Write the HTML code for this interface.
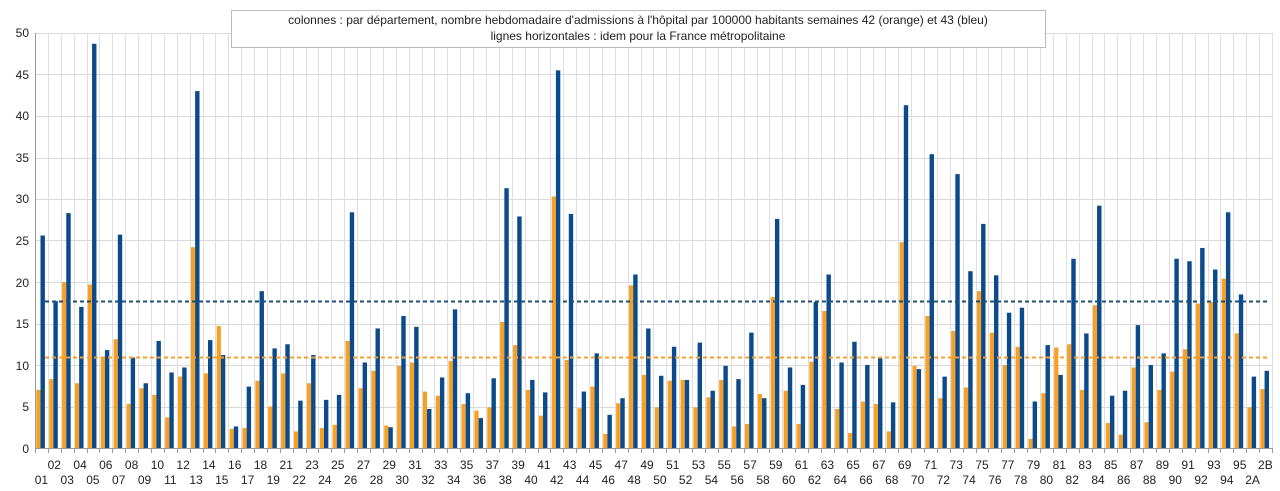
<!DOCTYPE html>
<html><head><meta charset="utf-8"><style>
html,body{margin:0;padding:0;background:#fff;}
svg{display:block;font-family:"Liberation Sans",sans-serif;}
</style></head><body>
<svg id="c" width="1280" height="491" xmlns="http://www.w3.org/2000/svg">
<rect x="0" y="0" width="1280" height="491" fill="#fff"/>
<g id="grid"></g>
<g id="bars"></g>
<line x1="45" y1="301.5" x2="1268" y2="301.5" stroke="#1f4e79" stroke-width="2" stroke-dasharray="4,3"/>
<line x1="45" y1="357.5" x2="1268" y2="357.5" stroke="#f5a030" stroke-width="2" stroke-dasharray="4,3"/>
<rect x="231.5" y="10.5" width="814" height="37" fill="#fff" stroke="#bbb"/>
<text x="638" y="24" font-size="12" text-anchor="middle" fill="#222">colonnes : par département, nombre hebdomadaire d'admissions à l'hôpital par 100000 habitants semaines 42 (orange) et 43 (bleu)</text>
<text x="638" y="40" font-size="12" text-anchor="middle" fill="#222">lignes horizontales : idem pour la France métropolitaine</text>
<g font-size="12" fill="#222" text-anchor="end">
<text x="29" y="37">50</text><text x="29" y="79">45</text><text x="29" y="120">40</text><text x="29" y="162">35</text><text x="29" y="203">30</text><text x="29" y="245">25</text><text x="29" y="287">20</text><text x="29" y="328">15</text><text x="29" y="370">10</text><text x="29" y="411">5</text><text x="29" y="453">0</text>
</g>
<g font-size="12" fill="#222" text-anchor="middle">
<text x="54.3" y="469">02</text><text x="80.1" y="469">04</text><text x="105.8" y="469">06</text><text x="131.6" y="469">08</text><text x="157.4" y="469">10</text><text x="183.1" y="469">12</text><text x="208.9" y="469">14</text><text x="234.7" y="469">16</text><text x="260.5" y="469">18</text><text x="286.2" y="469">21</text><text x="312" y="469">23</text><text x="337.8" y="469">25</text><text x="363.5" y="469">27</text><text x="389.3" y="469">29</text><text x="415.1" y="469">31</text><text x="440.8" y="469">33</text><text x="466.6" y="469">35</text><text x="492.4" y="469">37</text><text x="518.1" y="469">39</text><text x="543.9" y="469">41</text><text x="569.7" y="469">43</text><text x="595.5" y="469">45</text><text x="621.2" y="469">47</text><text x="647" y="469">49</text><text x="672.8" y="469">51</text><text x="698.5" y="469">53</text><text x="724.3" y="469">55</text><text x="750.1" y="469">57</text><text x="775.8" y="469">59</text><text x="801.6" y="469">61</text><text x="827.4" y="469">63</text><text x="853.1" y="469">65</text><text x="878.9" y="469">67</text><text x="904.7" y="469">69</text><text x="930.5" y="469">71</text><text x="956.2" y="469">73</text><text x="982" y="469">75</text><text x="1007.8" y="469">77</text><text x="1033.5" y="469">79</text><text x="1059.3" y="469">81</text><text x="1085.1" y="469">83</text><text x="1110.8" y="469">85</text><text x="1136.6" y="469">87</text><text x="1162.4" y="469">89</text><text x="1188.1" y="469">91</text><text x="1213.9" y="469">93</text><text x="1239.7" y="469">95</text><text x="1265.4" y="469">2B</text>
<text x="41.4" y="484">01</text><text x="67.2" y="484">03</text><text x="92.9" y="484">05</text><text x="118.7" y="484">07</text><text x="144.5" y="484">09</text><text x="170.3" y="484">11</text><text x="196" y="484">13</text><text x="221.8" y="484">15</text><text x="247.6" y="484">17</text><text x="273.3" y="484">19</text><text x="299.1" y="484">22</text><text x="324.9" y="484">24</text><text x="350.6" y="484">26</text><text x="376.4" y="484">28</text><text x="402.2" y="484">30</text><text x="428" y="484">32</text><text x="453.7" y="484">34</text><text x="479.5" y="484">36</text><text x="505.3" y="484">38</text><text x="531" y="484">40</text><text x="556.8" y="484">42</text><text x="582.6" y="484">44</text><text x="608.3" y="484">46</text><text x="634.1" y="484">48</text><text x="659.9" y="484">50</text><text x="685.6" y="484">52</text><text x="711.4" y="484">54</text><text x="737.2" y="484">56</text><text x="763" y="484">58</text><text x="788.7" y="484">60</text><text x="814.5" y="484">62</text><text x="840.3" y="484">64</text><text x="866" y="484">66</text><text x="891.8" y="484">68</text><text x="917.6" y="484">70</text><text x="943.3" y="484">72</text><text x="969.1" y="484">74</text><text x="994.9" y="484">76</text><text x="1020.6" y="484">78</text><text x="1046.4" y="484">80</text><text x="1072.2" y="484">82</text><text x="1098" y="484">84</text><text x="1123.7" y="484">86</text><text x="1149.5" y="484">88</text><text x="1175.3" y="484">90</text><text x="1201" y="484">92</text><text x="1226.8" y="484">94</text><text x="1252.6" y="484">2A</text>
</g>
</svg>
<script>
var o=[7,8.3,20,7.8,19.7,11,13.1,5.3,7.2,6.4,3.7,8.6,24.2,9,14.7,2.3,2.4,8.1,5,9,2,7.8,2.4,2.8,12.9,7.2,9.3,2.7,9.9,10.3,6.8,6.3,10.5,5.3,4.5,4.9,15.2,12.4,7,3.9,30.3,10.6,4.8,7.4,1.7,5.4,19.6,8.8,4.9,8.1,8.2,4.9,6.1,8.2,2.6,2.9,6.5,18.2,6.9,2.9,10.4,16.5,4.7,1.8,5.6,5.3,2,24.8,9.9,15.9,6,14.1,7.3,18.9,13.9,10,12.2,1.1,6.6,12.1,12.5,7,17.2,3,1.6,9.7,3.1,7,9.2,11.9,17.4,17.6,20.4,13.8,4.9,7.1];
var b=[25.6,17.7,28.3,17,48.7,11.8,25.7,10.9,7.8,12.9,9.1,9.7,43,13,11.2,2.6,7.4,18.9,12,12.5,5.7,11.2,5.8,6.4,28.4,10.3,14.4,2.5,15.9,14.6,4.7,8.5,16.7,6.6,3.6,8.4,31.3,27.9,8.2,6.7,45.5,28.2,6.8,11.4,4,6,20.9,14.4,8.7,12.2,8.2,12.7,6.9,9.9,8.3,13.9,6,27.6,9.7,7.6,17.6,20.9,10.3,12.8,10,10.8,5.5,41.3,9.5,35.4,8.6,33,21.3,27,20.8,16.3,16.9,5.6,12.4,8.8,22.8,13.8,29.2,6.3,6.9,14.8,10,11.4,22.8,22.5,24.1,21.5,28.4,18.5,8.6,9.3];
var NS="http://www.w3.org/2000/svg",X0=35,W=12.885,Y0=448,K=8.3;
function el(p,t,a){var e=document.createElementNS(NS,t);for(var k in a)e.setAttribute(k,a[k]);p.appendChild(e);}
var g=document.getElementById("grid"),bb=document.getElementById("bars");
for(var v=0;v<=50;v+=5){var y=Math.round(Y0-v*K)+0.5;el(g,"line",{x1:X0,x2:1272,y1:y,y2:y,stroke:"#d9d9d9"});}
for(var i=0;i<=96;i++){var x=Math.round(X0+i*W)+0.5;el(g,"line",{x1:x,x2:x,y1:33,y2:Y0,stroke:"#dedede"});el(g,"line",{x1:x,x2:x,y1:Y0,y2:Y0+5,stroke:"#999"});}
el(g,"line",{x1:X0,x2:1272,y1:Y0+0.5,y2:Y0+0.5,stroke:"#999"});
el(g,"line",{x1:X0+0.5,x2:X0+0.5,y1:33,y2:Y0,stroke:"#999"});
for(var i=0;i<96;i++){var x=X0+i*W;
el(bb,"rect",{x:x+1.3,y:Y0-o[i]*K,width:4.2,height:o[i]*K,fill:"#f7a026"});
el(bb,"rect",{x:x+5.5,y:Y0-b[i]*K,width:4.4,height:b[i]*K,fill:"#0b4a8b"});}
</script>
</body></html>
